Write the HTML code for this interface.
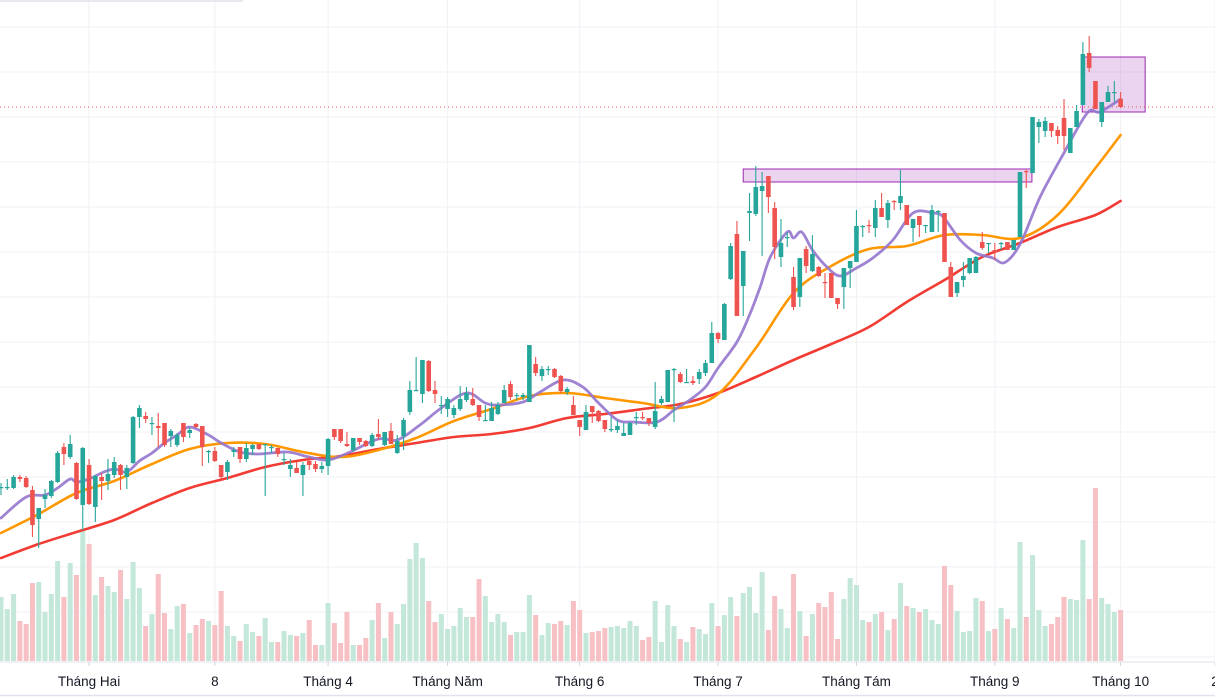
<!DOCTYPE html>
<html><head><meta charset="utf-8"><title>Candlestick chart</title>
<style>
html,body{margin:0;padding:0;background:#fff;overflow:hidden;}
svg{display:block;font-family:"Liberation Sans",sans-serif;}
</style></head>
<body>
<svg id="chart" width="1215" height="697" viewBox="0 0 1215 697" xmlns="http://www.w3.org/2000/svg">
<rect x="0" y="0" width="1215" height="697" fill="#ffffff"/>
<g id="grid"></g>
<g id="vol"></g>
<g id="ann"></g>
<g id="ma"></g>
<g id="candles"></g>
<g id="axis"></g>
<line x1="0" y1="1" x2="243" y2="1" stroke="#e0e3eb" stroke-width="1.5"/>
</svg>
<script>
const opens=[21.2,21.2,21.2,22.3,22.2,21.0,18.1,20.1,20.4,21.8,25.3,24.3,23.7,19.5,23.5,19.3,22.3,21.9,22.5,23.5,22.3,23.7,28.3,28.4,27.7,27.4,27.7,26.4,25.5,27.7,26.7,27.6,27.4,24.9,24.9,23.5,22.8,24.8,25.3,24.1,25.1,25.6,25.5,25.3,25.2,24.1,23.1,23.2,22.5,23.9,23.6,23.1,23.4,27.1,27.1,25.6,25.0,26.2,25.9,25.4,26.6,25.5,26.9,24.7,26.4,28.8,31.0,30.6,33.9,31.0,29.5,29.1,28.5,29.1,30.0,30.1,29.5,28.0,27.9,28.6,29.7,31.6,30.5,30.3,29.8,33.6,32.4,33.1,33.1,32.4,30.8,29.5,28.0,27.0,29.4,28.9,28.0,27.1,27.0,26.4,26.5,28.3,28.3,28.2,27.3,29.7,29.8,33.1,32.6,31.7,31.9,32.1,32.7,33.7,36.7,36.0,42.1,46.6,41.4,48.7,48.6,50.9,52.4,49.2,44.3,46.3,42.3,40.3,45.1,42.9,43.3,41.8,42.7,40.2,41.3,43.2,43.8,47.4,47.5,47.2,49.2,48.0,49.9,49.7,49.5,47.2,48.4,47.4,46.8,48.9,48.7,43.3,40.7,42.0,42.7,42.7,45.8,45.7,45.0,45.7,45.8,45.0,46.3,52.9,52.7,57.3,56.9,57.7,57.0,58.2,54.7,57.3,59.5,64.7,61.9,57.8,59.8,60.7,60.1];
const highs=[21.7,22.1,22.5,22.5,22.4,21.4,19.2,21.1,22.0,24.9,25.7,26.5,23.8,25.3,24.1,22.5,22.7,24.1,24.3,23.6,23.5,28.4,29.5,28.8,28.3,28.7,27.7,27.1,26.7,27.7,27.3,27.7,27.4,25.0,25.3,23.5,24.0,25.3,25.3,25.7,25.6,25.6,25.6,25.5,25.2,24.7,24.1,23.8,23.8,24.3,23.9,23.8,26.2,27.1,27.1,26.8,26.2,26.2,26.0,26.7,28.1,26.8,27.7,26.5,28.2,31.9,34.3,34.0,34.0,31.9,30.4,30.3,29.5,31.4,31.3,31.2,29.5,29.5,29.8,29.8,31.5,31.9,30.7,30.7,35.5,34.3,33.4,33.4,33.2,32.5,31.3,30.4,28.0,29.5,29.4,29.0,28.0,28.3,28.0,27.7,27.8,28.8,28.8,28.2,31.8,30.4,33.0,33.2,32.8,33.1,32.4,33.1,34.0,37.8,36.8,39.7,45.7,47.9,44.9,50.7,53.4,52.8,52.4,49.8,48.1,46.8,43.3,44.2,45.4,46.5,43.4,42.7,42.7,40.2,43.2,43.9,49.0,47.5,48.0,50.0,50.7,50.0,50.0,53.0,49.5,48.1,48.4,47.5,49.5,49.0,48.7,43.8,41.8,43.8,44.2,44.4,46.8,45.7,45.7,45.8,45.8,46.0,52.8,53.0,58.3,58.1,58.3,57.7,57.4,60.1,57.2,59.5,65.8,66.4,61.9,59.8,61.4,61.9,60.8];
const lows=[20.5,21.0,21.1,21.8,21.2,16.3,15.2,19.2,20.2,21.7,23.5,24.1,20.0,17.0,19.5,17.8,20.0,21.0,22.2,21.0,21.1,23.6,27.2,27.7,26.5,25.3,25.3,25.3,25.3,25.8,26.2,27.2,23.4,23.7,23.8,22.1,22.0,24.3,23.7,23.8,24.5,25.0,20.4,24.7,24.3,23.5,22.3,22.7,20.4,23.0,22.8,22.7,22.5,26.0,25.7,25.3,24.8,25.5,25.3,25.3,26.0,25.4,25.6,24.6,25.0,28.5,30.9,29.7,30.8,29.7,28.6,28.3,28.2,28.9,29.8,29.4,27.9,27.9,27.9,28.5,29.7,30.0,30.0,30.0,29.8,32.4,31.9,32.5,32.2,30.7,30.5,28.5,26.4,27.0,27.7,27.8,26.8,26.8,26.7,26.4,26.5,27.5,28.0,27.4,27.1,29.5,29.8,27.8,31.7,31.7,31.5,31.6,32.4,33.7,35.7,36.0,42.0,38.4,38.4,45.9,48.4,44.4,48.7,44.1,43.3,45.3,39.0,39.3,42.7,42.8,42.3,40.2,40.2,39.1,39.1,41.2,43.8,46.3,46.7,46.3,48.3,47.2,49.0,49.0,47.5,45.8,46.3,46.7,46.8,46.8,43.8,40.3,40.3,41.3,42.6,42.7,45.0,44.7,44.0,45.0,45.0,45.0,46.3,51.2,52.7,55.7,56.3,56.3,55.6,55.0,54.7,57.3,59.5,62.8,59.1,57.3,59.8,59.8,59.2];
const closes=[21.3,21.3,22.3,22.1,21.3,17.5,19.2,20.5,21.9,24.7,24.6,25.6,20.1,25.2,19.6,22.4,21.9,22.6,23.8,22.5,23.2,28.3,29.2,28.1,27.7,27.2,25.5,26.9,26.5,26.3,27.0,27.3,25.3,24.9,23.9,22.3,23.8,25.0,24.1,25.2,25.5,25.1,25.6,25.3,24.6,24.1,23.5,22.7,23.5,23.5,23.1,23.4,26.1,26.3,25.9,25.4,26.2,25.8,25.4,26.5,26.3,26.8,25.6,25.9,28.0,31.0,31.0,34.0,30.9,30.6,29.5,30.1,29.2,30.1,30.7,29.5,28.3,28.0,29.2,29.5,31.0,30.3,30.5,30.5,35.5,32.7,33.1,33.1,32.3,30.9,31.1,28.5,27.3,28.8,28.8,27.9,27.1,27.1,27.4,26.7,27.7,28.3,28.2,27.7,28.9,30.1,33.0,33.1,31.8,31.8,31.7,32.8,33.7,36.7,36.1,39.6,45.4,38.4,44.9,48.9,51.3,51.4,50.3,45.3,45.7,46.3,39.3,44.2,43.4,44.6,42.4,41.7,40.2,39.6,43.2,43.9,47.4,47.4,47.4,49.2,48.3,49.7,49.8,50.4,47.5,48.1,47.5,47.5,49.0,48.9,43.8,40.3,41.8,42.4,44.2,44.3,45.2,45.7,44.8,45.7,45.0,46.0,52.8,52.8,58.3,57.8,57.9,56.9,56.4,56.4,57.2,58.9,64.6,63.2,59.1,59.8,60.8,60.8,59.3];
const volumes=[64,52,67,40,37,78,79,49,67,100,64,98,86,132,117,66,84,75,69,91,62,99,73,35,47,87,48,32,55,57,28,36,42,40,36,70,35,25,20,37,29,25,43,19,19,30,26,25,28,41,16,16,58,38,18,49,16,16,23,41,58,23,49,37,57,102,118,103,60,39,47,32,35,53,44,44,82,65,39,47,39,26,29,29,66,46,26,38,37,40,36,60,51,28,29,30,33,34,35,33,40,35,21,24,60,19,56,35,22,19,34,32,27,58,35,46,64,45,68,74,48,89,31,65,52,33,87,50,25,47,58,54,69,22,62,83,76,41,39,47,49,31,42,78,55,53,49,52,41,37,95,76,50,29,30,63,60,30,32,53,42,33,119,44,106,51,35,37,44,64,62,61,121,62,173,63,57,49,51];
const fastIdx=[0,4,7,9,11,12,14,16,18,20,22,24,26,28,30,33,35,38,41,45.5,49,52,55.5,60,63,66.6,70,74,77,79,83,85.7,89.4,92.5,95,98,100.5,104.3,107,109.5,112,114,117,119,120.7,122.3,125,126,127.3,129,131.3,133.4,136,138.6,141.8,145,148.2,149.8,152.5,155,157.7,159.3,160.9,162.5,165.2,168.8,172.7,174.7,178];
const maFast=[18.2,20.3,20.5,21.2,22.1,21.8,22.1,22.7,23.1,22.8,23.9,24.7,25.7,26.5,27.3,26.5,25.7,24.8,24.6,24.8,24.3,24.0,24.8,26.1,26.0,27.5,29.2,30.7,29.7,29.5,29.8,30.8,32.0,31.3,29.7,28.0,27.8,27.8,29.0,30.0,31.3,33.2,35.8,38.5,41.3,44.3,46.8,46.2,46.8,45.0,43.3,42.4,43.2,44.2,46.0,48.7,48.7,48.3,46.0,44.7,44.2,43.7,44.5,46.2,50.3,54.5,58.7,58.8,60.1];
const maIdx=[0,6,12,18,24,30,36,42,48,54,60,66,72,78,84,90,96,102,108,114,120,126,132,138,144,150,156,162,168,174,178];
const maMid=[16.7,18.6,20.7,21.9,23.6,25.1,25.7,25.6,24.8,24.3,25.0,26.2,27.9,29.1,30.4,30.7,30.2,29.7,29.2,30.6,35.2,40.7,43.4,45.1,45.4,46.5,46.5,46.2,48.5,53.2,56.5];
const maSlow=[14.2,15.6,16.8,18.0,19.7,21.2,22.2,23.3,24.0,24.4,25.1,25.7,26.3,26.6,27.2,28.2,28.6,29.1,29.6,30.7,32.3,34.0,35.6,37.3,39.8,42.0,44.3,45.7,47.3,48.5,49.9];
const tickIdx=[14,34,52,71,92,114,136,158,178,193];
const tickLabels=["Tháng Hai","8","Tháng 4","Tháng Năm","Tháng 6","Tháng 7","Tháng Tám","Tháng 9","Tháng 10","2"];
const priceGrid=[67.3,62.8,58.3,53.8,49.3,44.8,40.3,35.8,31.3,26.8,22.3,17.8,13.3];
const volGrid=[139,94,49,4];
const zoneA=[118,163.9,53.1,51.8];
const zoneB=[171.9,181.9,64.3,58.8];

const NS="http://www.w3.org/2000/svg";
function xS(i){return 1+6.29*i;}
function yS(p){return 700-10*p;}
function yV(v){return 661-v;}
function mk(tag,attrs,parent){const e=document.createElementNS(NS,tag);for(const k in attrs)e.setAttribute(k,attrs[k]);parent.appendChild(e);return e;}
const G=document.getElementById('grid'),V=document.getElementById('vol'),C=document.getElementById('candles'),M=document.getElementById('ma'),A=document.getElementById('axis'),AN=document.getElementById('ann');
const UP="#26a69a",DN="#ef5350";

priceGrid.forEach(p=>{const l=mk('line',{x1:0,x2:1215,y1:yS(p),y2:yS(p),stroke:"#f0f1f6","stroke-width":1},G);

});
volGrid.forEach(v=>{const l=mk('line',{x1:0,x2:1215,y1:yV(v),y2:yV(v),stroke:"#f0f1f6","stroke-width":1},G);

});
tickIdx.forEach(i=>{const l=mk('line',{x1:xS(i),x2:xS(i),y1:0,y2:662,stroke:"#f0f1f6","stroke-width":1},G);

});

volumes.forEach((v,i)=>{const up=closes[i]>=opens[i];
const r=mk('rect',{x:xS(i)-2.5,y:yV(v),width:5,height:v,fill:up?"#c3e7d9":"#f7c0c4"},V);

});

function zone(z){const x1=xS(z[0]),x2=xS(z[1]),y1=yS(z[2]),y2=yS(z[3]);
const r=mk('rect',{x:x1,y:y1,width:x2-x1,height:y2-y1,fill:"rgba(156,39,176,0.2)",stroke:"#9c27b0","stroke-width":1},AN);

}
zone(zoneA);zone(zoneB);

function smoothPath(P){let d="M"+P[0][0].toFixed(1)+","+P[0][1].toFixed(1);
for(let k=0;k<P.length-1;k++){const p0=P[Math.max(0,k-1)],p1=P[k],p2=P[k+1],p3=P[Math.min(P.length-1,k+2)];
const c1x=p1[0]+(p2[0]-p0[0])/6,c1y=p1[1]+(p2[1]-p0[1])/6,c2x=p2[0]-(p3[0]-p1[0])/6,c2y=p2[1]-(p3[1]-p1[1])/6;
d+=" C"+c1x.toFixed(1)+","+c1y.toFixed(1)+" "+c2x.toFixed(1)+","+c2y.toFixed(1)+" "+p2[0].toFixed(1)+","+p2[1].toFixed(1);}
return d;}
function maLine(idx,vals,color,w,name){const P=vals.map((v,k)=>[xS(idx[k]),yS(v)]);
const pl=mk('path',{d:smoothPath(P),fill:"none",stroke:color,"stroke-width":w,"stroke-linejoin":"round","stroke-linecap":"round"},M);

}
maLine(maIdx,maSlow,"#f23b33",2.6,"ma-slow-line");
maLine(maIdx,maMid,"#ff9800",2.6,"ma-mid-line");
maLine(fastIdx,maFast,"rgba(149,117,205,0.9)",2.8,"ma-fast-line");

opens.forEach((o,i)=>{const c=closes[i],up=c>=o,col=up?UP:DN,x=xS(i);
const g=mk('g',{},C);


mk('line',{x1:x,x2:x,y1:yS(highs[i]),y2:yS(lows[i]),stroke:col,"stroke-width":1.1},g);
const t=yS(Math.max(o,c)),b=yS(Math.min(o,c));
mk('rect',{x:x-2.3,y:t,width:4.6,height:Math.max(1.2,b-t),fill:col},g);});

const last=closes[closes.length-1];
const pl=mk('line',{x1:0,x2:1215,y1:yS(last),y2:yS(last),stroke:DN,"stroke-width":1,"stroke-dasharray":"1,3"},AN);



const bl=mk('line',{x1:0,x2:1215,y1:662,y2:662,stroke:"#e0e3eb","stroke-width":1},A);


const bl2=mk('line',{x1:0,x2:1215,y1:695.5,y2:695.5,stroke:"#e0e3eb","stroke-width":1.5},A);


tickIdx.forEach((ti,k)=>{const tk=mk('line',{x1:xS(ti),x2:xS(ti),y1:662,y2:666,stroke:"#d1d4dc","stroke-width":1},A);


const t=mk('text',{x:xS(ti),y:686,"text-anchor":"middle","font-size":"13.5",fill:"#131722"},A);
t.textContent=tickLabels[k];

});
</script>
</body></html>
